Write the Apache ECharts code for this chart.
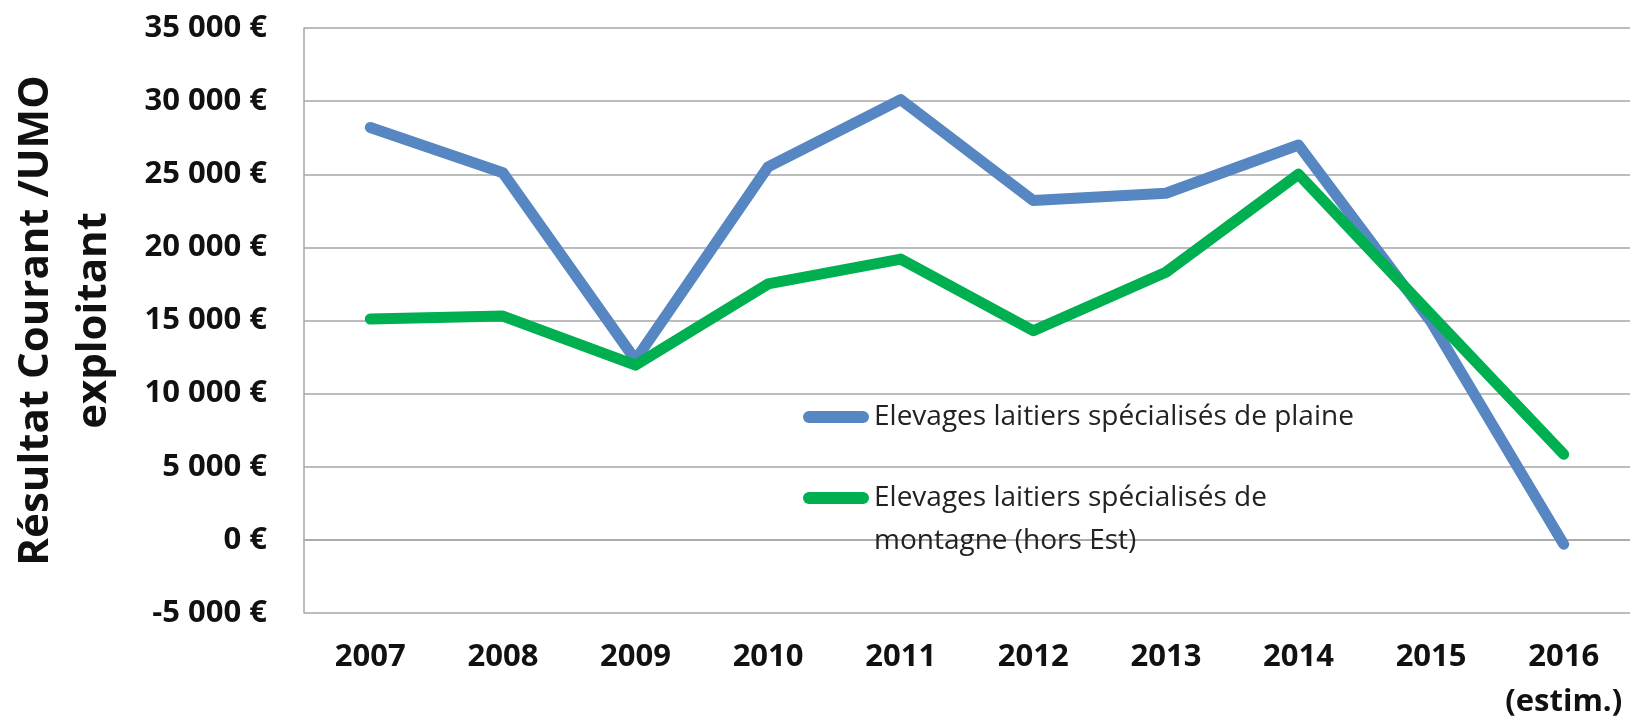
<!doctype html>
<html lang="fr">
<head>
    <meta charset="utf-8"/>
    <title>Résultat courant / UMO exploitant</title>
    <script src="https://cdn.jsdelivr.net/npm/echarts@6/dist/echarts.min.js"></script>
    <style>
        html, body { margin: 0; padding: 0; background: #fff; }
        #chart { width: 1630px; height: 717px; }
    </style>
</head>
<body>
<div id="chart"></div>
<script>
    // données
    const years = ["2007", "2008", "2009", "2010", "2011", "2012", "2013", "2014", "2015", "2016\n(estim.)"];
    const plaine = [28200, 25100, 12300, 25500, 30100, 23200, 23700, 27000, 14900, -300];
    const montagne = [15100, 15300, 11950, 17500, 19200, 14300, 18300, 25000, 15400, 5850];
    const seriesNames = [
        "Elevages laitiers spécialisés de plaine",
        "Elevages laitiers spécialisés de montagne (hors Est)"
    ];
    const yMin = -5000, yMax = 35000, yStep = 5000;

    const font = "Open Sans";
    const chart = echarts.init(document.getElementById("chart"));

    function euro(v) {
        let s = String(Math.abs(v)).replace(/\B(?=(\d{3})+(?!\d))/g, " ");
        return (v < 0 ? "-" : "") + s + " €";
    }

    const legendIcon = "path://M6,0 H60 A6,6 0 0 1 60,12 H6 A6,6 0 0 1 6,0 Z";
    const legendText = { fontFamily: font, fontSize: 28, color: "#222", lineHeight: 43 };

    const option = {
        backgroundColor: "#fff",
        animation: false,
        grid: { left: 304, right: 0, top: 28, bottom: 104, outerBoundsMode: "none" },
        legend: [
            {
                data: [seriesNames[0]],
                left: 803,
                top: 417 - 21.5,
                padding: 0,
                icon: legendIcon,
                itemWidth: 66,
                itemHeight: 12,
                textStyle: legendText
            },
            {
                data: [seriesNames[1]],
                left: 803,
                top: 498 - 64.5,
                padding: 0,
                icon: legendIcon,
                itemWidth: 66,
                itemHeight: 12,
                // ligne vide en tête pour garder le trait face à la 1re ligne
                formatter: function (name) {
                    return " \nElevages laitiers spécialisés de\nmontagne (hors Est)";
                },
                textStyle: legendText
            }
        ],
        xAxis: {
            type: "category",
            data: years,
            boundaryGap: true,
            axisLine: { show: true, lineStyle: { color: "#a6a6a6", width: 1.5 } },
            axisTick: { show: false },
            axisLabel: {
                interval: 0,
                margin: 22,
                fontFamily: font,
                fontWeight: "bold",
                fontSize: 31,
                color: "#111",
                lineHeight: 45
            }
        },
        yAxis: {
            type: "value",
            min: yMin,
            max: yMax,
            interval: yStep,
            name: "Résultat Courant /UMO\nexploitant",
            nameLocation: "middle",
            nameRotate: 90,
            nameGap: 181,
            nameTextStyle: {
                fontFamily: font,
                fontWeight: "bold",
                fontSize: 42,
                color: "#111",
                lineHeight: 58
            },
            axisLine: { show: true, lineStyle: { color: "#a6a6a6", width: 1.5 } },
            axisTick: { show: false },
            splitLine: { lineStyle: { color: "#a6a6a6", width: 1.5 } },
            axisLabel: {
                margin: 37,
                fontFamily: font,
                fontWeight: "bold",
                fontSize: 31,
                color: "#111",
                formatter: euro
            }
        },
        series: [
            {
                name: seriesNames[0],
                type: "line",
                data: plaine,
                symbol: "none",
                color: "#5687c2",
                lineStyle: { width: 11, color: "#5687c2", cap: "round", join: "round" }
            },
            {
                name: seriesNames[1],
                type: "line",
                data: montagne,
                symbol: "none",
                color: "#00b050",
                lineStyle: { width: 11, color: "#00b050", cap: "round", join: "round" }
            }
        ]
    };
    chart.setOption(option);

    window.onresize = function () {
        chart.resize();
    };
</script>
</body>
</html>
